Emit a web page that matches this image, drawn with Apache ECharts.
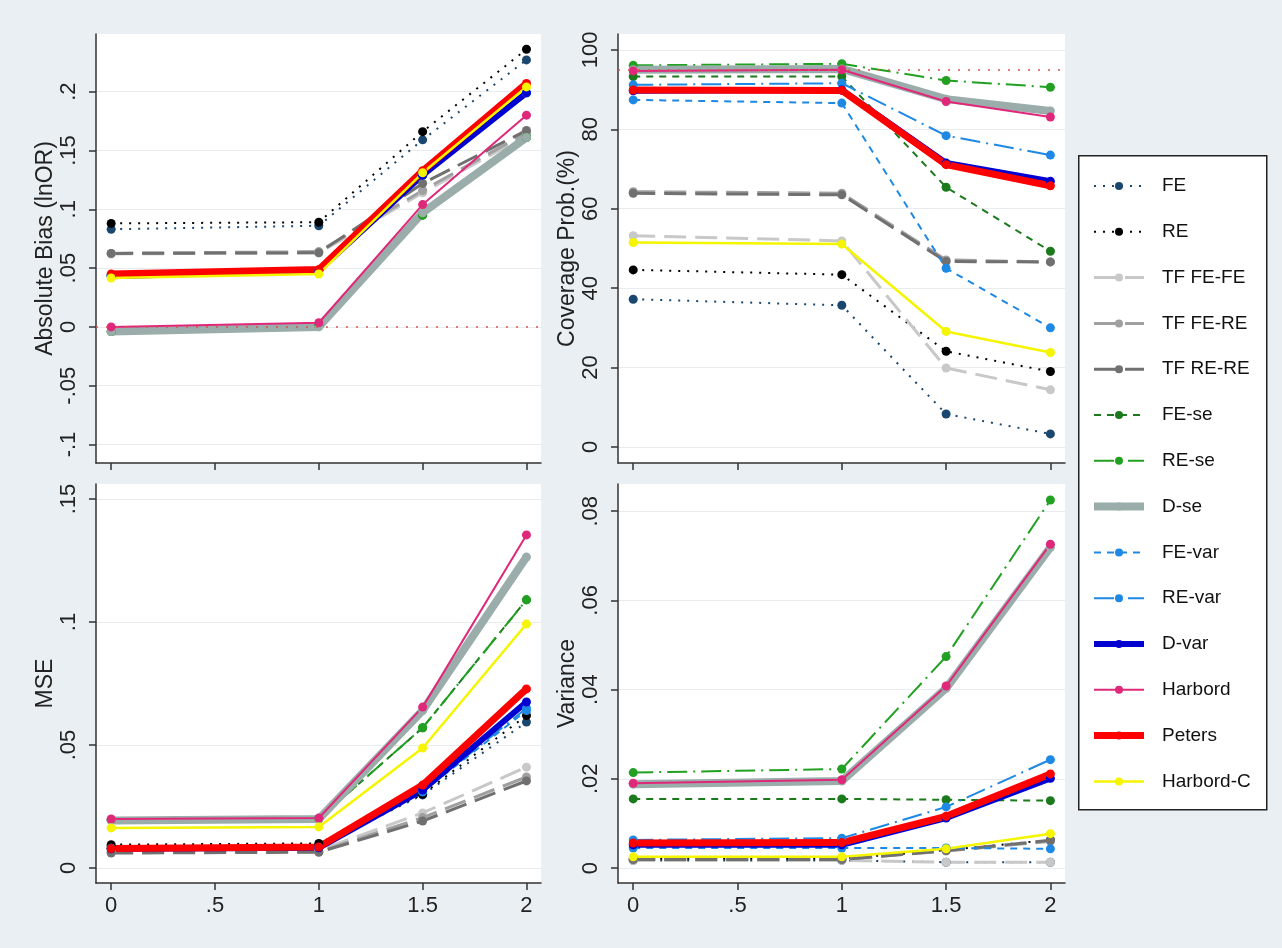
<!DOCTYPE html>
<html>
<head>
<meta charset="utf-8">
<script src="https://cdn.jsdelivr.net/npm/echarts@6.0.0/dist/echarts.min.js"></script>
<style>
  html, body { margin: 0; padding: 0; background: #e9eff3; }
  #main { width: 1282px; height: 948px; }
</style>
</head>
<body>
<div id="main"></div>
<script>
// x values (tau^2 or whatever the design parameter is)
const xVals = [0, 1, 1.5, 2]
const xTicks = [0, 0.5, 1, 1.5, 2]

const methods = ['FE', 'RE', 'TF FE-FE', 'TF FE-RE', 'TF RE-RE', 'FE-se', 'RE-se', 'D-se',
  'FE-var', 'RE-var', 'D-var', 'Harbord', 'Peters', 'Harbord-C']

// absolute bias (lnOR), one row per method
const biasVals = [
  [0.083, 0.086, 0.159, 0.227],
  [0.088, 0.089, 0.166, 0.236],
  [0.062, 0.063, 0.114, 0.163],
  [0.0625, 0.064, 0.116, 0.165],
  [0.0625, 0.063, 0.122, 0.167],
  [-0.004, 0.001, 0.095, 0.161],
  [-0.004, 0.001, 0.095, 0.161],
  [-0.004, 0.0, 0.097, 0.161],
  [0.044, 0.048, 0.129, 0.199],
  [0.044, 0.048, 0.129, 0.199],
  [0.043, 0.048, 0.129, 0.199],
  [0.0, 0.0035, 0.104, 0.180],
  [0.045, 0.0487, 0.1327, 0.207],
  [0.0416, 0.045, 0.131, 0.204]
]
// coverage probability (%)
const coverVals = [
  [37.2, 35.7, 8.3, 3.3],
  [44.6, 43.4, 24.1, 19.0],
  [53.2, 51.9, 19.9, 14.4],
  [64.3, 63.9, 47.1, 46.6],
  [63.9, 63.5, 46.7, 46.6],
  [93.3, 93.3, 65.4, 49.3],
  [96.1, 96.5, 92.3, 90.6],
  [95.0, 95.2, 87.6, 84.6],
  [87.4, 86.6, 45.0, 30.0],
  [91.2, 91.6, 78.4, 73.5],
  [89.7, 89.9, 71.5, 66.9],
  [94.7, 95.0, 87.0, 83.1],
  [89.9, 89.8, 71.1, 65.8],
  [51.5, 51.1, 29.1, 23.8]
]
// MSE
const mseVals = [
  [0.0088, 0.0088, 0.0297, 0.0593],
  [0.0095, 0.0100, 0.030, 0.062],
  [0.0072, 0.0072, 0.0224, 0.041],
  [0.0064, 0.0066, 0.0205, 0.037],
  [0.0061, 0.0064, 0.0191, 0.0354],
  [0.0195, 0.0200, 0.057, 0.109],
  [0.0195, 0.0200, 0.057, 0.109],
  [0.0193, 0.0199, 0.0640, 0.1264],
  [0.0080, 0.0083, 0.031, 0.064],
  [0.0080, 0.0083, 0.031, 0.065],
  [0.0078, 0.0082, 0.0317, 0.0675],
  [0.0199, 0.0203, 0.0654, 0.1354],
  [0.0079, 0.0085, 0.0337, 0.0728],
  [0.0163, 0.0167, 0.0488, 0.0992]
]
// variance
const varVals = [
  [0.0017, 0.0017, 0.0013, 0.0013],
  [0.0021, 0.0021, 0.0040, 0.0063],
  [0.0017, 0.0017, 0.0013, 0.0013],
  [0.0019, 0.0019, 0.0038, 0.0060],
  [0.0019, 0.0019, 0.0039, 0.0062],
  [0.0155, 0.0155, 0.0153, 0.0151],
  [0.0214, 0.0222, 0.0474, 0.0825],
  [0.0188, 0.0195, 0.0403, 0.0719],
  [0.0045, 0.0045, 0.0045, 0.0043],
  [0.0063, 0.0067, 0.0137, 0.0243],
  [0.0052, 0.0052, 0.0112, 0.0201],
  [0.0190, 0.0198, 0.0408, 0.0726],
  [0.0056, 0.0057, 0.0116, 0.0211],
  [0.0025, 0.0025, 0.0043, 0.0077]
]

const biasTicks = [-0.1, -0.05, 0, 0.05, 0.1, 0.15, 0.2]
const coverTicks = [0, 20, 40, 60, 80, 100]
const mseTicks = [0, 0.05, 0.1, 0.15]
const varTicks = [0, 0.02, 0.04, 0.06, 0.08]

// line look per method (same order as methods)
const DOT = [2, 7], SDASH = [7, 6], LDASH = [22, 9], LDDOT = [20, 6, 2, 6]
const styles = [
  {color: '#1a476f', width: 2, type: DOT},
  {color: '#000000', width: 2, type: DOT},
  {color: '#c8c8c8', width: 3, type: LDASH},
  {color: '#a0a0a0', width: 3, type: LDASH},
  {color: '#707070', width: 3, type: LDASH},
  {color: '#1b7a1b', width: 2, type: SDASH},
  {color: '#22a022', width: 2, type: LDDOT},
  {color: '#9aadaa', width: 8, type: 'solid'},
  {color: '#1e88e5', width: 2, type: SDASH},
  {color: '#1e88e5', width: 2, type: LDDOT},
  {color: '#0000d0', width: 6, type: 'solid'},
  {color: '#e0287a', width: 2, type: 'solid'},
  {color: '#ff0000', width: 7, type: 'solid'},
  {color: '#f5f500', width: 2.5, type: 'solid'}
]

const tickFont = 'Liberation Sans Narrow, Liberation Sans, Arial'
const titleFont = 'Liberation Sans, Arial'

function stataNum(v){
  return String(+v.toFixed(4)).replace(/^(-?)0\./, '$1.')
}

const panels = [
  {vals: biasVals, ticks: biasTicks, name: 'Absolute Bias (lnOR)', min: -0.1157, max: 0.249, xLabels: false},
  {vals: coverVals, ticks: coverTicks, name: 'Coverage Prob.(%)', min: -4.03, max: 104.0, xLabels: false},
  {vals: mseVals, ticks: mseTicks, name: 'MSE', min: -0.0061, max: 0.1561, xLabels: true},
  {vals: varVals, ticks: varTicks, name: 'Variance', min: -0.00336, max: 0.0861, xLabels: true}
]

const grids = [
  {left: 96, top: 34, width: 445, height: 429},
  {left: 618, top: 34, width: 447, height: 429},
  {left: 96, top: 484, width: 445, height: 399},
  {left: 618, top: 484, width: 447, height: 399}
].map(g => Object.assign(g, {show: true, backgroundColor: '#ffffff', borderWidth: 0}))

const xAxes = panels.map((p, i) => ({
  type: 'value', gridIndex: i, min: -0.073, max: 2.07,
  axisLine: {show: true, onZero: false, lineStyle: {color: '#333', width: 1.5}},
  axisTick: {show: true, length: 7, customValues: xTicks, lineStyle: {color: '#333', width: 1.5}},
  axisLabel: {show: p.xLabels, customValues: xTicks, margin: 12, formatter: stataNum,
    fontFamily: tickFont, fontSize: 22, color: '#222'},
  splitLine: {show: false}
}))

const yAxes = panels.map((p, i) => ({
  type: 'value', gridIndex: i, min: p.min, max: p.max,
  name: p.name, nameLocation: 'middle', nameRotate: 90, nameGap: 38,
  nameTextStyle: {fontFamily: titleFont, fontSize: 23, color: '#222'},
  axisLine: {show: true, onZero: false, lineStyle: {color: '#333', width: 1.5}},
  axisTick: {show: true, length: 7, customValues: p.ticks, lineStyle: {color: '#333', width: 1.5}},
  axisLabel: {customValues: p.ticks, rotate: 90, margin: 16, formatter: stataNum,
    fontFamily: tickFont, fontSize: 22, color: '#222'},
  splitLine: {show: true, lineStyle: {color: '#e8ecee', width: 1.2}}
}))

const series = []
panels.forEach((p, pi) => {
  methods.forEach((m, mi) => {
    const st = styles[mi]
    const s = {
      name: m, type: 'line', xAxisIndex: pi, yAxisIndex: pi,
      data: xVals.map((x, k) => [x, p.vals[mi][k]]),
      symbol: 'circle', symbolSize: 9, showSymbol: true,
      itemStyle: {color: st.color},
      lineStyle: {color: st.color, width: st.width, type: st.type},
      emphasis: {disabled: true},
      animation: false
    }
    // reference lines at 0 (bias) and 95 (coverage)
    if (mi === 0 && (pi === 0 || pi === 1)) {
      s.markLine = {
        silent: true, symbol: 'none', label: {show: false},
        lineStyle: {color: '#d9534f', type: [2, 8], width: 1.5},
        data: [{yAxis: pi === 0 ? 0 : 95}]
      }
    }
    series.push(s)
  })
})

// legend items keep the line width/dash of their series
const legendData = methods.map((m, i) => ({
  name: m,
  lineStyle: {width: styles[i].width, type: styles[i].type, color: styles[i].color}
}))

let myChart = echarts.init(document.getElementById('main'))
let option = {
  backgroundColor: '#e9eff3',
  animation: false,
  grid: grids,
  xAxis: xAxes,
  yAxis: yAxes,
  graphic: [{
    type: 'rect', left: 1078, top: 155, z: -1,
    shape: {width: 188, height: 654},
    style: {fill: '#ffffff', stroke: '#222', lineWidth: 1.5}
  }],
  legend: {
    data: legendData, orient: 'vertical', left: 1090, top: 176,
    itemWidth: 50, itemHeight: 10, itemGap: 25.8,
    padding: 0, selectedMode: false,
    textStyle: {fontFamily: titleFont, fontSize: 19, color: '#111', lineHeight: 20, padding: [0, 0, 0, 13]}
  },
  series: series
}
myChart.setOption(option)
</script>
</body>
</html>
